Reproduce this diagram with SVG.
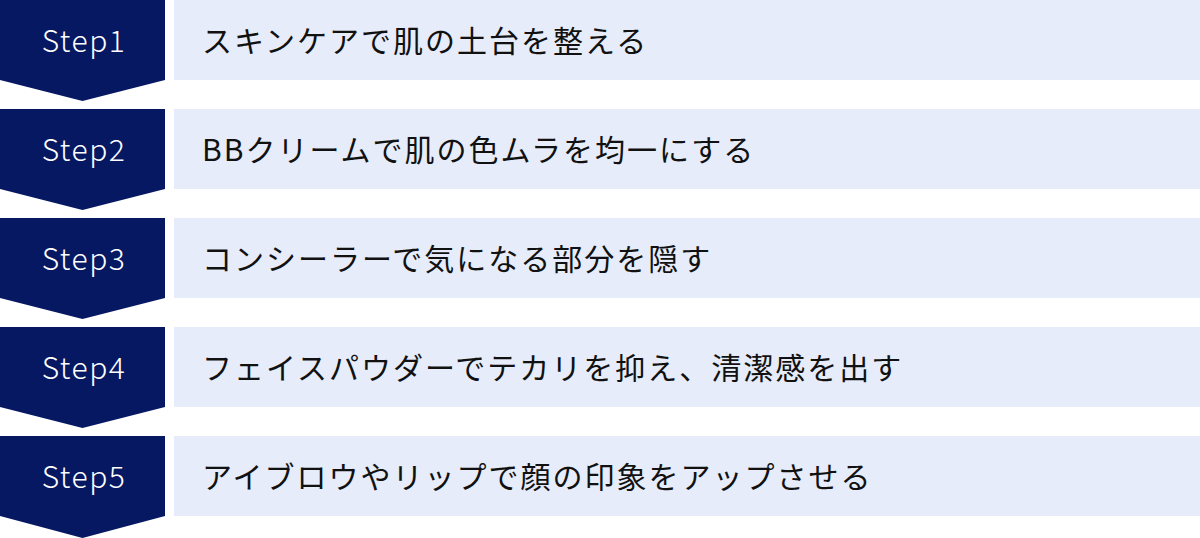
<svg xmlns="http://www.w3.org/2000/svg" width="1200" height="538" viewBox="0 0 1200 538">
<style>
.chev{fill:#061862}
.box{fill:#e6ecf9}
.lbl{font-family:"Noto Sans CJK JP","Noto Sans",sans-serif;font-size:30px;font-weight:300;fill:#ffffff;text-anchor:middle;letter-spacing:1.5px}
.txt{font-family:"Noto Sans CJK JP","Noto Sans",sans-serif;font-size:30px;fill:#111111;letter-spacing:2px}
</style>
<rect width="1200" height="538" fill="#ffffff"/>
<g id="step1">
<polygon class="chev" points="0,0 165,0 165,80 82.5,101 0,80"/>
<rect class="box" x="174" y="0" width="1026" height="80"/>
<text class="lbl" x="84" y="52">Step1</text>
<text class="txt" x="202" y="52">スキンケアで肌の土台を整える</text>
</g>
<g id="step2">
<polygon class="chev" points="0,109 165,109 165,189 82.5,210 0,189"/>
<rect class="box" x="174" y="109" width="1026" height="80"/>
<text class="lbl" x="84" y="161">Step2</text>
<text class="txt" x="202" y="161">BBクリームで肌の色ムラを均一にする</text>
</g>
<g id="step3">
<polygon class="chev" points="0,218 165,218 165,298 82.5,319 0,298"/>
<rect class="box" x="174" y="218" width="1026" height="80"/>
<text class="lbl" x="84" y="270">Step3</text>
<text class="txt" x="202" y="270">コンシーラーで気になる部分を隠す</text>
</g>
<g id="step4">
<polygon class="chev" points="0,327 165,327 165,407 82.5,428 0,407"/>
<rect class="box" x="174" y="327" width="1026" height="80"/>
<text class="lbl" x="84" y="379">Step4</text>
<text class="txt" x="202" y="379">フェイスパウダーでテカリを抑え、清潔感を出す</text>
</g>
<g id="step5">
<polygon class="chev" points="0,436 165,436 165,516 82.5,538 0,516"/>
<rect class="box" x="174" y="436" width="1026" height="80"/>
<text class="lbl" x="84" y="488">Step5</text>
<text class="txt" x="202" y="488">アイブロウやリップで顔の印象をアップさせる</text>
</g>
<g id="connectors"></g>
</svg>
